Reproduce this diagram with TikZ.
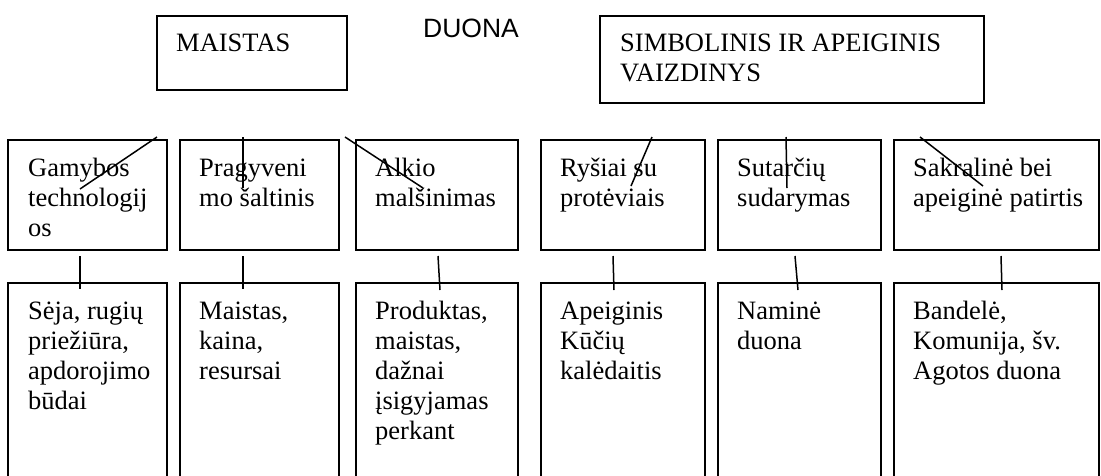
\documentclass[tikz,border=0pt]{standalone}
\usepackage{fontspec}
\setmainfont{Liberation Serif}
\newfontfamily\sansf{Liberation Sans}
\newcommand{\ml}[1]{\begin{tabular}[t]{@{}l@{}}#1\end{tabular}}
\begin{document}
\begin{tikzpicture}[x=1pt,y=-1pt,
  box/.style={draw, line width=1.7pt, inner sep=0pt, anchor=north west},
  txt/.style={inner sep=0pt, anchor=base west, font=\fontsize{26.5}{30}\selectfont},
  conn/.style={line width=1.5pt}]
\useasboundingbox (0,0) rectangle (1101,475);
\clip (0,0) rectangle (1101,475);

% top level
\node[box, minimum width=190pt, minimum height=74pt] (maistas) at (156,15) {};
\node[txt] (tmaistas) at (176,51) {MAISTAS};
\node[inner sep=0pt, anchor=base west, font=\sansf\fontsize{26.5}{30}\selectfont] (duona) at (423,37) {DUONA};
\node[box, minimum width=384pt, minimum height=87pt] (simb) at (599,15) {};
\node[txt] (tsimb) at (620,51) {\ml{SIMBOLINIS IR APEIGINIS\\VAIZDINYS}};

% row 1
\node[box, minimum width=159pt, minimum height=110pt] (b1) at (7,139) {};
\node[box, minimum width=159pt, minimum height=110pt] (b2) at (179,139) {};
\node[box, minimum width=162pt, minimum height=110pt] (b3) at (355,139) {};
\node[box, minimum width=164pt, minimum height=110pt] (b4) at (540,139) {};
\node[box, minimum width=163pt, minimum height=110pt] (b5) at (717,139) {};
\node[box, minimum width=205pt, minimum height=110pt] (b6) at (893,139) {};
\node[txt] (tb1) at (28,176) {\ml{Gamybos\\technologij\\os}};
\node[txt] (tb2) at (199,176) {\ml{Pragyveni\\mo šaltinis}};
\node[txt] (tb3) at (375,176) {\ml{Alkio\\malšinimas}};
\node[txt] (tb4) at (560,176) {\ml{Ryšiai su\\protėviais}};
\node[txt] (tb5) at (737,176) {\ml{Sutarčių\\sudarymas}};
\node[txt] (tb6) at (913,176) {\ml{Sakralinė bei\\apeiginė patirtis}};

% row 2
\node[box, minimum width=159pt, minimum height=210pt] (c1) at (7,282) {};
\node[box, minimum width=159pt, minimum height=210pt] (c2) at (179,282) {};
\node[box, minimum width=162pt, minimum height=210pt] (c3) at (355,282) {};
\node[box, minimum width=164pt, minimum height=210pt] (c4) at (540,282) {};
\node[box, minimum width=163pt, minimum height=210pt] (c5) at (717,282) {};
\node[box, minimum width=205pt, minimum height=210pt] (c6) at (893,282) {};
\node[txt] (tc1) at (28,319) {\ml{Sėja, rugių\\priežiūra,\\apdorojimo\\būdai}};
\node[txt] (tc2) at (199,319) {\ml{Maistas,\\kaina,\\resursai}};
\node[txt] (tc3) at (375,319) {\ml{Produktas,\\maistas,\\dažnai\\įsigyjamas\\perkant}};
\node[txt] (tc4) at (560,319) {\ml{Apeiginis\\Kūčių\\kalėdaitis}};
\node[txt] (tc5) at (737,319) {\ml{Naminė\\duona}};
\node[txt] (tc6) at (913,319) {\ml{Bandelė,\\Komunija, šv.\\Agotos duona}};

% connector ends
\coordinate (s1) at (157,137); \coordinate (e1) at (80,189);
\coordinate (s2) at (243,137); \coordinate (e2) at (243,188);
\coordinate (s3) at (345,137); \coordinate (e3) at (423,188);
\coordinate (s4) at (652,137); \coordinate (e4) at (631,186);
\coordinate (s5) at (786,137); \coordinate (e5) at (787,188);
\coordinate (s6) at (920,137); \coordinate (e6) at (983,186);
\draw[conn] (s1) -- (e1);
\draw[conn] (s2) -- (e2);
\draw[conn] (s3) -- (e3);
\draw[conn] (s4) -- (e4);
\draw[conn] (s5) -- (e5);
\draw[conn] (s6) -- (e6);

\coordinate (u1) at (80,256);   \coordinate (v1) at (80,289);
\coordinate (u2) at (243,256);  \coordinate (v2) at (243,289);
\coordinate (u3) at (438,256);  \coordinate (v3) at (440,290);
\coordinate (u4) at (613,256);  \coordinate (v4) at (614,290);
\coordinate (u5) at (795,256);  \coordinate (v5) at (798,290);
\coordinate (u6) at (1001,256); \coordinate (v6) at (1002,290);
\draw[conn] (u1) -- (v1);
\draw[conn] (u2) -- (v2);
\draw[conn] (u3) -- (v3);
\draw[conn] (u4) -- (v4);
\draw[conn] (u5) -- (v5);
\draw[conn] (u6) -- (v6);
\end{tikzpicture}
\end{document}
